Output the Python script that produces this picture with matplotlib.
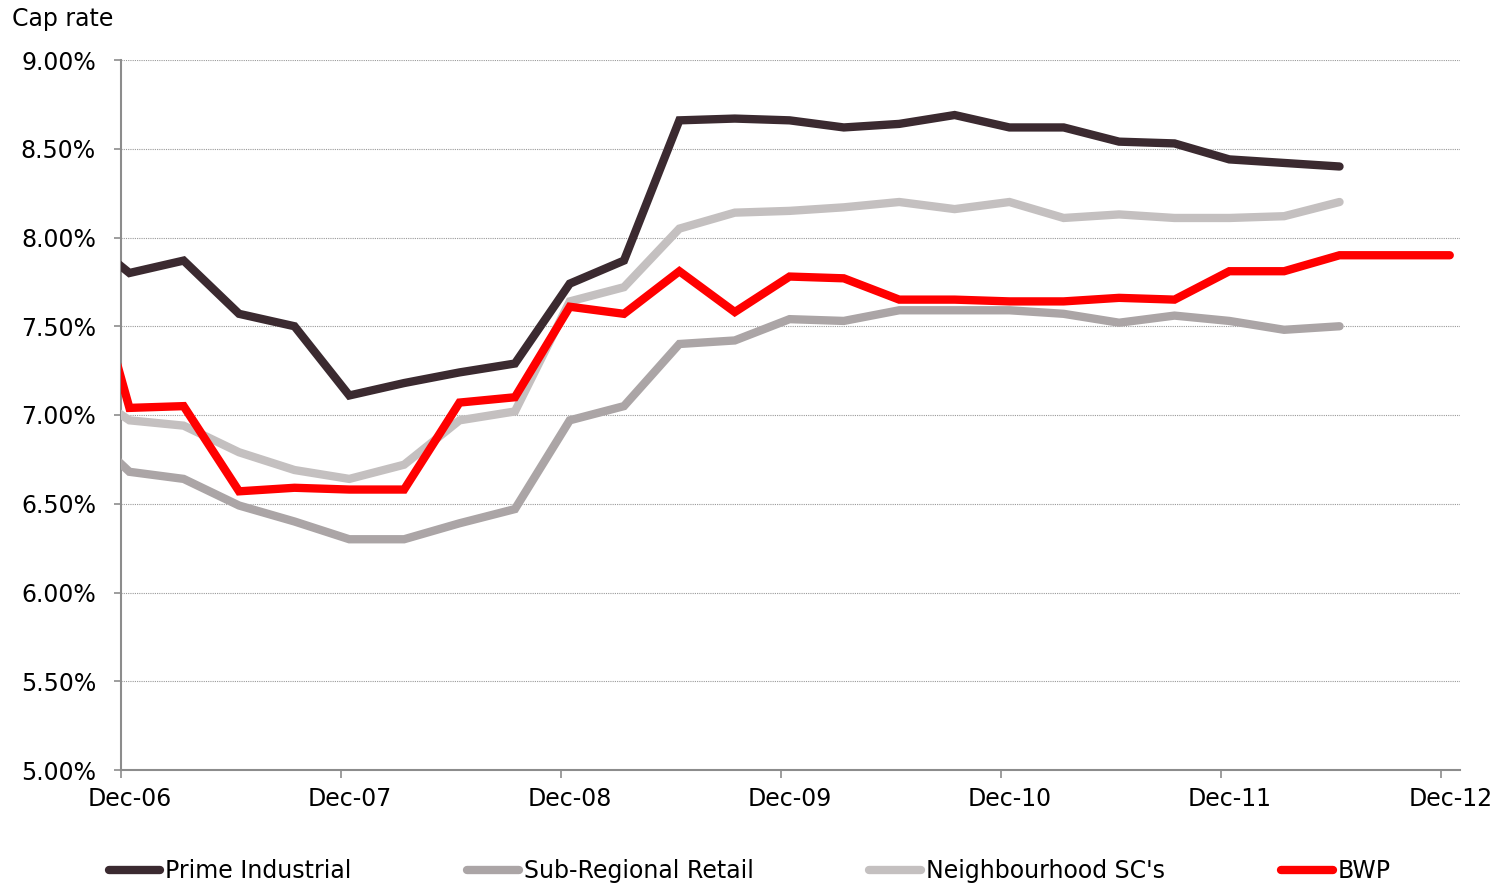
import numpy as np
import pandas as pd
import matplotlib
matplotlib.use("Agg")
import matplotlib.pyplot as plt
import matplotlib.transforms as mtransforms
from matplotlib.ticker import FuncFormatter

plt.rcParams['font.family'] = ['DejaVu Sans']

# quarterly readings, first one (Sep-06) sits just left of the axis
dates = pd.date_range('2006-09-01', periods=26, freq='3MS') + pd.Timedelta(days=14)

prime_industrial = [8.05, 7.80, 7.87, 7.57, 7.50, 7.11, 7.18, 7.24, 7.29, 7.74, 7.87, 8.66,
                    8.67, 8.66, 8.62, 8.64, 8.69, 8.62, 8.62, 8.54, 8.53, 8.44, 8.42, 8.40]
sub_regional = [6.97, 6.68, 6.64, 6.49, 6.40, 6.30, 6.30, 6.39, 6.47, 6.97, 7.05, 7.40,
                7.42, 7.54, 7.53, 7.59, 7.59, 7.59, 7.57, 7.52, 7.56, 7.53, 7.48, 7.50]
neighbourhood = [7.18, 6.97, 6.94, 6.79, 6.69, 6.64, 6.72, 6.97, 7.02, 7.64, 7.72, 8.05,
                 8.14, 8.15, 8.17, 8.20, 8.16, 8.20, 8.11, 8.13, 8.11, 8.11, 8.12, 8.20]
bwp = [8.14, 7.04, 7.05, 6.57, 6.59, 6.58, 6.58, 7.07, 7.10, 7.61, 7.57, 7.81, 7.58,
       7.78, 7.77, 7.65, 7.65, 7.64, 7.64, 7.66, 7.65, 7.81, 7.81, 7.90, 7.90, 7.90]

tick_dates = pd.date_range('2006-12-01', periods=7, freq='12MS')
tick_labels = ['Dec-06', 'Dec-07', 'Dec-08', 'Dec-09', 'Dec-10', 'Dec-11', 'Dec-12']

fig = plt.figure(figsize=(14.99, 8.86), dpi=100)
ax = fig.add_axes([121 / 1499, 1 - 770 / 886, (1460 - 121) / 1499, 710 / 886])

lw = 6
ax.plot(dates[:24], sub_regional, color='#aba5a6', lw=lw, solid_capstyle='round',
        solid_joinstyle='miter', label='Sub-Regional Retail', zorder=3)
ax.plot(dates[:24], neighbourhood, color='#c4c0c0', lw=lw, solid_capstyle='round',
        solid_joinstyle='miter', label="Neighbourhood SC's", zorder=3)
ax.plot(dates[:24], prime_industrial, color='#3b2a30', lw=lw, solid_capstyle='round',
        solid_joinstyle='miter', label='Prime Industrial', zorder=4)
ax.plot(dates, bwp, color='#ff0000', lw=lw, solid_capstyle='round',
        solid_joinstyle='miter', label='BWP', zorder=5)

ax.set_xlim(pd.Timestamp('2006-12-01'), pd.Timestamp('2013-01-01'))
ax.set_ylim(5, 9)
ax.set_yticks(np.arange(5, 9.01, 0.5))
ax.yaxis.set_major_formatter(FuncFormatter(lambda v, p: '{:.2f}%'.format(v)))
ax.set_xticks(tick_dates)
ax.set_xticklabels(tick_labels)

ax.grid(axis='y', color='#999999', linestyle=(0, (1, 1)), linewidth=0.8)
ax.set_axisbelow(True)
for s in ['top', 'right']:
    ax.spines[s].set_visible(False)
for s in ['left', 'bottom']:
    ax.spines[s].set_color('#8c8c8c')
    ax.spines[s].set_linewidth(1.5)

ax.tick_params(axis='y', length=5, width=1.2, color='#8c8c8c', pad=13, labelsize=17)
ax.tick_params(axis='x', length=6, width=1.2, color='#8c8c8c', pad=6, labelsize=17)

# x labels sit a little to the right of their tick marks
offset = mtransforms.ScaledTranslation(9 / 100, 0, fig.dpi_scale_trans)
for lab in ax.get_xticklabels():
    lab.set_transform(lab.get_transform() + offset)

fig.text(12 / 1499, 1 - 19 / 886, 'Cap rate', fontsize=17, va='center', ha='left')

handles, labels = ax.get_legend_handles_labels()
order = [2, 0, 1, 3]
leg = fig.legend([handles[i] for i in order], [labels[i] for i in order],
                 loc='center', bbox_to_anchor=(0.5, 1 - 871 / 886), ncol=4, frameon=False,
                 fontsize=17, handlelength=2.2, handletextpad=0.2, columnspacing=4.9)

fig.savefig('out.png', dpi=100)
